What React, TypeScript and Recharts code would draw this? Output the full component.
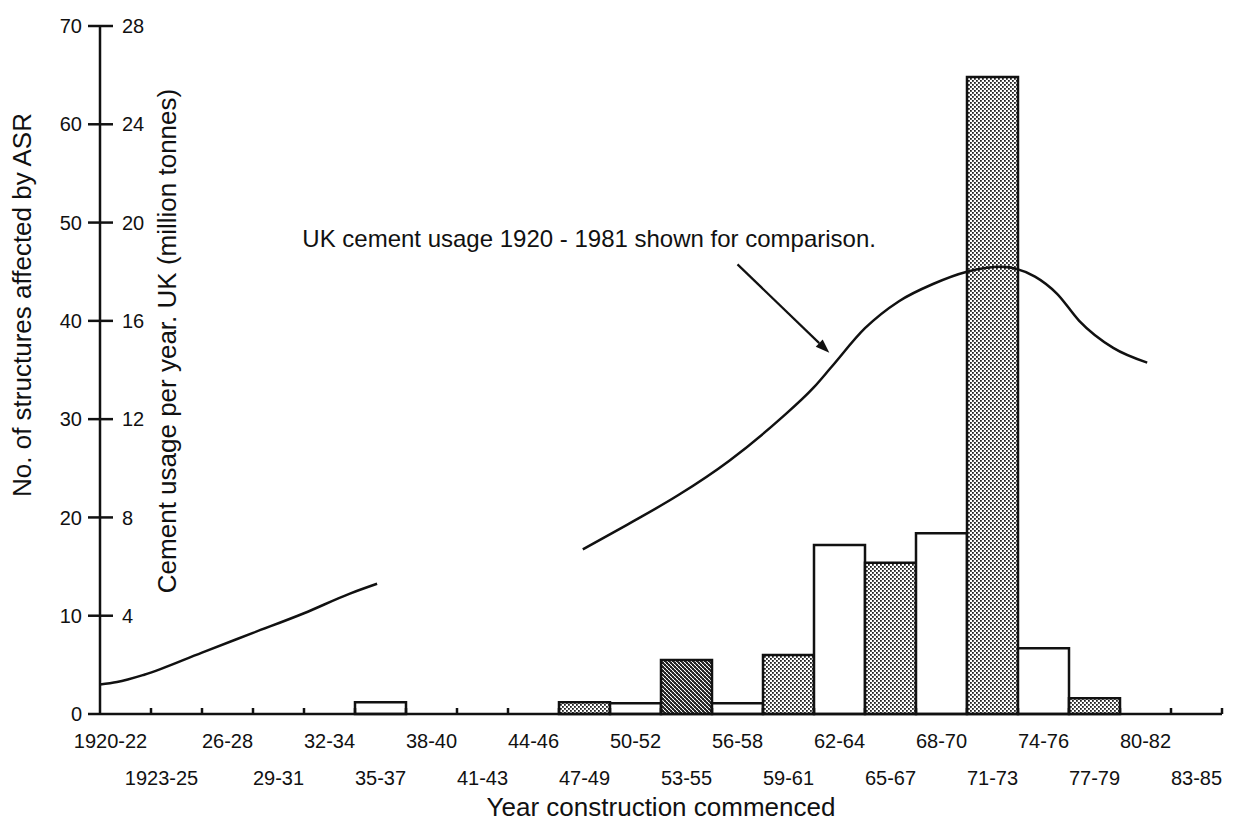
import React from 'react';
import {
  ComposedChart,
  Bar,
  Line,
  XAxis,
  YAxis,
  Cell,
  ReferenceLine,
  ReferenceDot,
} from 'recharts';

const FONT = '"Liberation Sans", Arial, Helvetica, sans-serif';
const INK = '#111';

// three-year construction periods
const periods = [
  '1920-22', '1923-25', '26-28', '29-31', '32-34', '35-37', '38-40', '41-43',
  '44-46', '47-49', '50-52', '53-55', '56-58', '59-61', '62-64', '65-67',
  '68-70', '71-73', '74-76', '77-79', '80-82', '83-85',
];

// structures affected by ASR, per period
const structures = [
  0, 0, 0, 0, 0, 1.2, 0, 0, 0, 1.2, 1.1, 5.5, 1.1, 6, 17.2, 15.4, 18.4, 64.8,
  6.7, 1.6, 0, 0,
];

// UK cement usage (million tonnes); null marks the wartime gap
const cementYears = [
  1920, 1921, 1922.6, 1926, 1929, 1932, 1934.7, 1936.3, 1942, 1948.4, 1951,
  1954, 1957, 1960, 1962, 1963, 1965, 1967, 1969, 1971, 1973, 1975, 1976.3,
  1977.6, 1979.6, 1981.6,
];
const cementTonnes = [
  1.2, 1.3, 1.6, 2.5, 3.3, 4.1, 4.9, 5.3, null, 6.7, 7.7, 8.9, 10.3, 12.0,
  13.3, 14.1, 15.7, 16.8, 17.5, 18.0, 18.2, 17.8, 17.1, 16.0, 14.9, 14.3,
];

const structureTicks = [0, 10, 20, 30, 40, 50, 60, 70];
const cementTicks = [4, 8, 12, 16, 20, 24, 28];

const noteText = 'UK cement usage 1920 - 1981 shown for comparison.';
const noteAnchor = { year: 1931.9, tonnes: 19.37 };
const arrowFrom = { year: 1957.5, tonnes: 18.3 };
const arrowTo = { year: 1962.9, tonnes: 14.7 };

const dottedPeriods = new Set(['47-49', '59-61', '65-67', '71-73', '77-79']);
const hatchedPeriods = new Set(['53-55']);

const barData = periods.map((period, i) => ({ period, count: structures[i] }));
const lineData = cementYears.map((year, i) => ({ year, tonnes: cementTonnes[i] }));

const fillFor = (period: string) => {
  if (hatchedPeriods.has(period)) return 'url(#hatch)';
  if (dottedPeriods.has(period)) return 'url(#stipple)';
  return '#fff';
};

// labels alternate between two rows; a short upward tick marks the
// right-hand edge of each period band
const PeriodTick = ({ x, y, payload }: any) => {
  const idx = periods.indexOf(payload.value);
  const shift = payload.value.length > 5 ? -15 : 0;
  const edge = x + (payload.offset || 0);
  return (
    <g>
      <line x1={edge} y1={y} x2={edge} y2={y - 6} stroke={INK} strokeWidth={2.5} />
      <text
        x={x + shift}
        y={y + (idx % 2 === 0 ? 34 : 71)}
        textAnchor="middle"
        fontSize={20}
        fill={INK}
        fontFamily={FONT}
      >
        {payload.value}
      </text>
    </g>
  );
};

const ArrowShape = (props: any) => {
  const { x1, y1, x2, y2 } = props;
  const ang = Math.atan2(y2 - y1, x2 - x1);
  const len = 14;
  const half = 5;
  const bx = x2 - len * Math.cos(ang);
  const by = y2 - len * Math.sin(ang);
  const px = half * Math.sin(ang);
  const py = half * Math.cos(ang);
  return (
    <g>
      <line x1={x1} y1={y1} x2={bx} y2={by} stroke={INK} strokeWidth={2.2} />
      <polygon
        points={`${x2},${y2} ${bx + px},${by - py} ${bx - px},${by + py}`}
        fill={INK}
      />
    </g>
  );
};

const axisStroke = { stroke: INK, strokeWidth: 2.5 };

export default function App() {
  return (
    <div style={{ position: 'absolute', left: 0, top: 0, background: '#fff', fontFamily: FONT }}>
      <ComposedChart
        width={1238}
        height={825}
        data={barData}
        margin={{ top: 26, right: 16, bottom: 5, left: 40 }}
        barCategoryGap={0}
      >
        <defs>
          <pattern id="stipple" width="4" height="4" patternUnits="userSpaceOnUse">
            <rect width="4" height="4" fill="#fff" />
            <rect x="0" y="0" width="1.8" height="1.8" fill="#222" />
            <rect x="2" y="2" width="1.8" height="1.8" fill="#222" />
          </pattern>
          <pattern id="hatch" width="4" height="4" patternUnits="userSpaceOnUse">
            <rect width="4" height="4" fill="#fff" />
            <rect x="0" y="0" width="2" height="2" fill="#222" />
            <rect x="2" y="2" width="2" height="2" fill="#222" />
            <path d="M0,4 L4,0" stroke="#222" strokeWidth="0.8" />
          </pattern>
        </defs>

        {/* hidden year scale for the cement curve, sharing the band range */}
        <XAxis
          xAxisId="yr"
          type="number"
          dataKey="year"
          domain={[1920, 1986]}
          hide
        />
        <XAxis
          xAxisId="cat"
          dataKey="period"
          interval={0}
          height={106}
          tickSize={0}
          tickMargin={0}
          axisLine={axisStroke}
          tickLine={false}
          tick={(p: any) => <PeriodTick {...p} />}
          label={{
            value: 'Year construction commenced',
            position: 'insideBottom',
            offset: 4,
            fontSize: 26,
            fill: INK,
          }}
        />
        <YAxis
          yAxisId="asr"
          domain={[0, 70]}
          ticks={structureTicks}
          width={60}
          tickSize={12}
          tickMargin={6}
          axisLine={axisStroke}
          tickLine={axisStroke}
          tick={{ fontSize: 20, fill: INK }}
          label={{
            value: 'No. of structures affected by ASR',
            angle: -90,
            position: 'center',
            dx: -48,
            dy: -65,
            fontSize: 26,
            fill: INK,
          }}
        />
        <YAxis
          yAxisId="cem"
          domain={[0, 28]}
          ticks={cementTicks}
          mirror
          width={60}
          tickSize={13}
          tickMargin={9}
          axisLine={false}
          tickLine={axisStroke}
          tick={{ fontSize: 20, fill: INK, textAnchor: 'start' }}
          label={{
            value: 'Cement usage per year. UK (million tonnes)',
            angle: -90,
            position: 'center',
            dx: 37,
            dy: -29,
            fontSize: 26,
            fill: INK,
          }}
        />

        <Bar
          xAxisId="cat"
          yAxisId="asr"
          dataKey="count"
          stroke={INK}
          strokeWidth={2.5}
          isAnimationActive={false}
        >
          {periods.map((p) => (
            <Cell key={p} fill={fillFor(p)} />
          ))}
        </Bar>

        <Line
          xAxisId="yr"
          yAxisId="cem"
          data={lineData}
          dataKey="tonnes"
          type="monotone"
          stroke={INK}
          strokeWidth={2.5}
          dot={false}
          activeDot={false}
          isAnimationActive={false}
        />

        <ReferenceLine
          xAxisId="yr"
          yAxisId="cem"
          segment={[
            { x: arrowFrom.year, y: arrowFrom.tonnes },
            { x: arrowTo.year, y: arrowTo.tonnes },
          ]}
          shape={ArrowShape}
        />
        <ReferenceDot
          xAxisId="yr"
          yAxisId="cem"
          x={noteAnchor.year}
          y={noteAnchor.tonnes}
          r={0}
          fill="none"
          stroke="none"
          label={{ value: noteText, position: 'right', offset: 0, fontSize: 24, fill: INK }}
        />
      </ComposedChart>
    </div>
  );
}
